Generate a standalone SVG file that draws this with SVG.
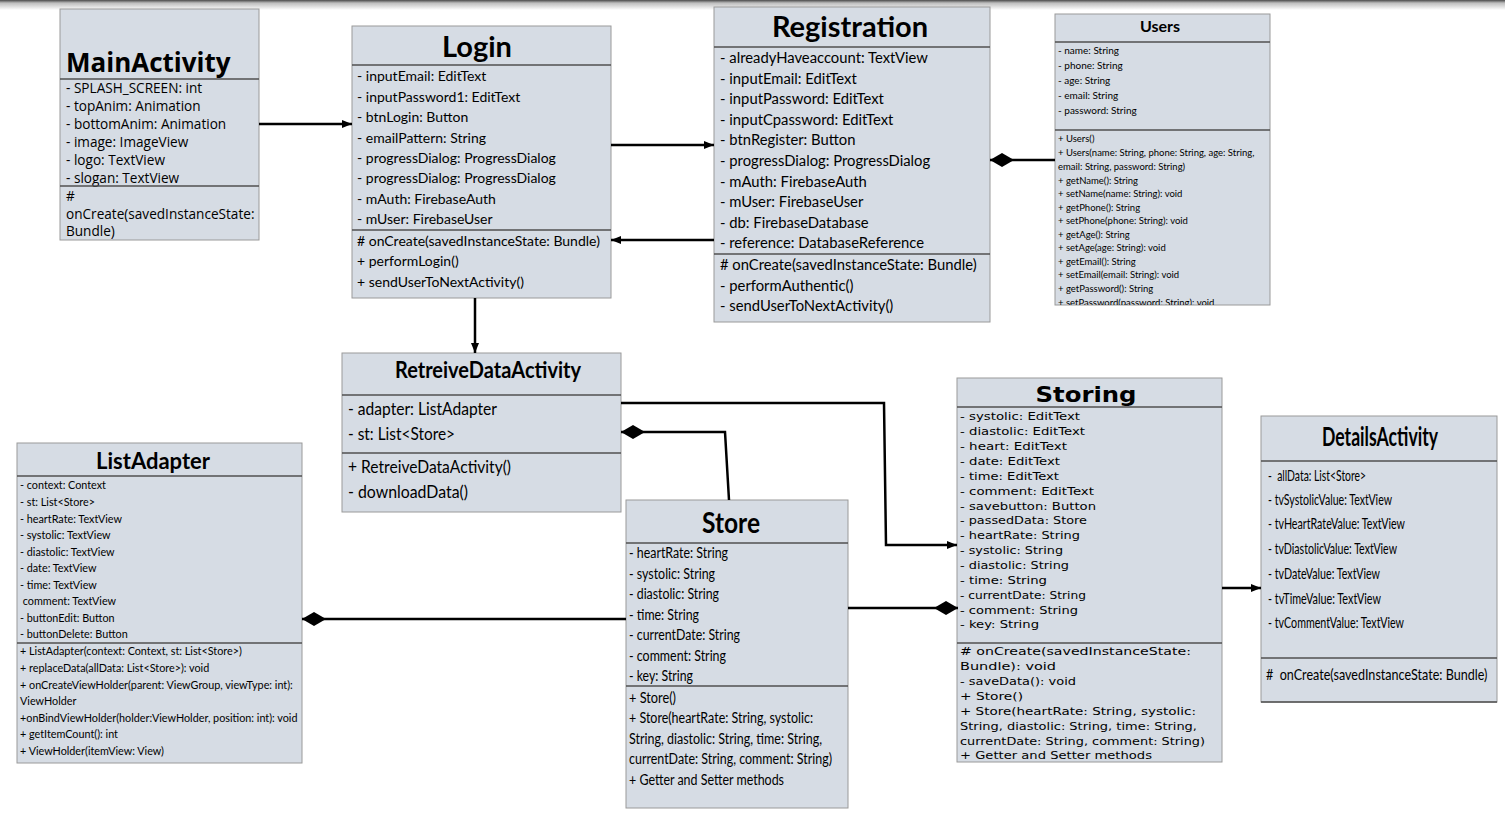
<svg xmlns="http://www.w3.org/2000/svg" width="1505" height="816" viewBox="0 0 1505 816">
<defs>
<linearGradient id="topg" x1="0" y1="0" x2="0" y2="1">
<stop offset="0" stop-color="#4a4a4a"/><stop offset="0.3" stop-color="#bdbdbd"/><stop offset="1" stop-color="#ffffff"/>
</linearGradient>
<marker id="arr" viewBox="0 0 10 10" refX="10" refY="5" markerWidth="10" markerHeight="10" markerUnits="userSpaceOnUse" orient="auto">
<path d="M0,1 L10,5 L0,9 Z" fill="#000"/>
</marker>
<marker id="dia" viewBox="0 0 24 14" refX="0" refY="7" markerWidth="24" markerHeight="14" markerUnits="userSpaceOnUse" orient="auto">
<path d="M0,7 L12,0 L24,7 L12,14 Z" fill="#000"/>
</marker>
<clipPath id="usersClip"><rect x="1055" y="14" width="215" height="291"/></clipPath>
</defs>
<style>
.box{fill:#d6dce4;stroke:#9a9a9a;stroke-width:1}
.div{stroke:#505050;stroke-width:1.3}
.t{fill:#000}
.cal{font-family:Lato,"Liberation Sans",sans-serif}
.os{font-family:"Open Sans","DejaVu Sans",sans-serif}
.dv{font-family:"DejaVu Sans","Open Sans",sans-serif}
.b{font-weight:bold}
.mid{text-anchor:middle}
.con{fill:none;stroke:#000;stroke-width:2.5}
</style>
<rect x="0" y="0" width="1505" height="10" fill="url(#topg)"/>
<rect width="1505" height="816" fill="#fff" y="10"/>

<g id="MainActivity">
<rect class="box" x="60" y="9" width="199" height="231"/>
<text class="t os b" x="66" y="72" font-size="26">MainActivity</text>
<line class="div" x1="60" y1="79" x2="259" y2="79"/>
<g class="t os" font-size="13.6">
<text x="66" y="93">- SPLASH_SCREEN: int</text>
<text x="66" y="111">- topAnim: Animation</text>
<text x="66" y="129">- bottomAnim: Animation</text>
<text x="66" y="147">- image: ImageView</text>
<text x="66" y="165">- logo: TextView</text>
<text x="66" y="183">- slogan: TextView</text>
</g>
<line class="div" x1="60" y1="186" x2="259" y2="186"/>
<g class="t os" font-size="13.6">
<text x="66" y="201">#</text>
<text x="66" y="219">onCreate(savedInstanceState:</text>
<text x="66" y="236">Bundle)</text>
</g>
</g>

<g id="Login">
<rect class="box" x="352" y="26" width="259" height="272"/>
<text class="t cal b mid" x="477" y="57" font-size="29">Login</text>
<line class="div" x1="352" y1="65" x2="611" y2="65"/>
<g class="t cal" font-size="14">
<text x="357" y="81">- inputEmail: EditText</text>
<text x="357" y="102">- inputPassword1: EditText</text>
<text x="357" y="122">- btnLogin: Button</text>
<text x="357" y="143">- emailPattern: String</text>
<text x="357" y="163">- progressDialog: ProgressDialog</text>
<text x="357" y="183">- progressDialog: ProgressDialog</text>
<text x="357" y="204">- mAuth: FirebaseAuth</text>
<text x="357" y="224">- mUser: FirebaseUser</text>
</g>
<line class="div" x1="352" y1="230" x2="611" y2="230"/>
<g class="t cal" font-size="14">
<text x="357" y="246"># onCreate(savedInstanceState: Bundle)</text>
<text x="357" y="266">+ performLogin()</text>
<text x="357" y="287">+ sendUserToNextActivity()</text>
</g>
</g>

<g id="Registration">
<rect class="box" x="714" y="7" width="276" height="315"/>
<text class="t cal b mid" x="850" y="37" font-size="29">Registration</text>
<line class="div" x1="714" y1="47" x2="990" y2="47"/>
<g class="t cal" font-size="14.8">
<text x="720" y="63">- alreadyHaveaccount: TextView</text>
<text x="720" y="84">- inputEmail: EditText</text>
<text x="720" y="104">- inputPassword: EditText</text>
<text x="720" y="125">- inputCpassword: EditText</text>
<text x="720" y="145">- btnRegister: Button</text>
<text x="720" y="166">- progressDialog: ProgressDialog</text>
<text x="720" y="187">- mAuth: FirebaseAuth</text>
<text x="720" y="207">- mUser: FirebaseUser</text>
<text x="720" y="228">- db: FirebaseDatabase</text>
<text x="720" y="248">- reference: DatabaseReference</text>
</g>
<line class="div" x1="714" y1="254" x2="990" y2="254"/>
<g class="t cal" font-size="14.8">
<text x="720" y="270"># onCreate(savedInstanceState: Bundle)</text>
<text x="720" y="291">- performAuthentic()</text>
<text x="720" y="311">- sendUserToNextActivity()</text>
</g>
</g>

<g id="Users">
<rect class="box" x="1055" y="14" width="215" height="291"/>
<text class="t cal b mid" x="1160" y="32" font-size="16">Users</text>
<line class="div" x1="1055" y1="42" x2="1270" y2="42"/>
<g class="t cal" font-size="10">
<text x="1058" y="54">- name: String</text>
<text x="1058" y="69">- phone: String</text>
<text x="1058" y="84">- age: String</text>
<text x="1058" y="99">- email: String</text>
<text x="1058" y="114">- password: String</text>
</g>
<line class="div" x1="1055" y1="130" x2="1270" y2="130"/>
<g class="t cal" font-size="9.5" clip-path="url(#usersClip)">
<text x="1058" y="141.5">+ Users()</text>
<text x="1058" y="155.5">+ Users(name: String, phone: String, age: String,</text>
<text x="1058" y="169.5">email: String, password: String)</text>
<text x="1058" y="183.5">+ getName(): String</text>
<text x="1058" y="196.5">+ setName(name: String): void</text>
<text x="1058" y="210.5">+ getPhone(): String</text>
<text x="1058" y="223.5">+ setPhone(phone: String): void</text>
<text x="1058" y="237.5">+ getAge(): String</text>
<text x="1058" y="250.5">+ setAge(age: String): void</text>
<text x="1058" y="264.5">+ getEmail(): String</text>
<text x="1058" y="277.5">+ setEmail(email: String): void</text>
<text x="1058" y="291.5">+ getPassword(): String</text>
<text x="1058" y="305.5">+ setPassword(password: String): void</text>
</g>
</g>

<g id="RetreiveDataActivity">
<rect class="box" x="342" y="353" width="279" height="159"/>
<text class="t cal b mid" x="488" y="378" font-size="22" textLength="186" lengthAdjust="spacingAndGlyphs">RetreiveDataActivity</text>
<line class="div" x1="342" y1="395" x2="621" y2="395"/>
<g class="t cal" font-size="18">
<text x="348" y="415" textLength="149" lengthAdjust="spacingAndGlyphs">- adapter: ListAdapter</text>
<text x="348" y="440" textLength="107" lengthAdjust="spacingAndGlyphs">- st: List&lt;Store&gt;</text>
</g>
<line class="div" x1="342" y1="453" x2="621" y2="453"/>
<g class="t cal" font-size="18">
<text x="348" y="473" textLength="163" lengthAdjust="spacingAndGlyphs">+ RetreiveDataActivity()</text>
<text x="348" y="498" textLength="120" lengthAdjust="spacingAndGlyphs">- downloadData()</text>
</g>
</g>

<g id="ListAdapter">
<rect class="box" x="17" y="443" width="285" height="320"/>
<text class="t cal b mid" x="153" y="469" font-size="22">ListAdapter</text>
<line class="div" x1="17" y1="476" x2="302" y2="476"/>
<g class="t cal" font-size="10.8">
<text x="20" y="489">- context: Context</text>
<text x="20" y="506">- st: List&lt;Store&gt;</text>
<text x="20" y="523">- heartRate: TextView</text>
<text x="20" y="539">- systolic: TextView</text>
<text x="20" y="556">- diastolic: TextView</text>
<text x="20" y="572">- date: TextView</text>
<text x="20" y="589">- time: TextView</text>
<text x="20" y="605" xml:space="preserve"> comment: TextView</text>
<text x="20" y="622">- buttonEdit: Button</text>
<text x="20" y="638">- buttonDelete: Button</text>
</g>
<line class="div" x1="17" y1="643" x2="302" y2="643"/>
<g class="t cal" font-size="10.8">
<text x="20" y="655">+ ListAdapter(context: Context, st: List&lt;Store&gt;)</text>
<text x="20" y="672">+ replaceData(allData: List&lt;Store&gt;): void</text>
<text x="20" y="689">+ onCreateViewHolder(parent: ViewGroup, viewType: int):</text>
<text x="20" y="705">ViewHolder</text>
<text x="20" y="722">+onBindViewHolder(holder:ViewHolder, position: int): void</text>
<text x="20" y="738">+ getItemCount(): int</text>
<text x="20" y="755">+ ViewHolder(itemView: View)</text>
</g>
</g>

<g id="Store">
<rect class="box" x="626" y="500" width="222" height="308"/>
<text class="t cal b mid" x="731" y="533" font-size="28" textLength="58" lengthAdjust="spacingAndGlyphs">Store</text>
<line class="div" x1="626" y1="543" x2="848" y2="543"/>
<g class="t cal" font-size="14.5">
<text x="629" y="558" textLength="99" lengthAdjust="spacingAndGlyphs">- heartRate: String</text>
<text x="629" y="579" textLength="86" lengthAdjust="spacingAndGlyphs">- systolic: String</text>
<text x="629" y="599" textLength="90" lengthAdjust="spacingAndGlyphs">- diastolic: String</text>
<text x="629" y="620" textLength="70" lengthAdjust="spacingAndGlyphs">- time: String</text>
<text x="629" y="640" textLength="111" lengthAdjust="spacingAndGlyphs">- currentDate: String</text>
<text x="629" y="661" textLength="97" lengthAdjust="spacingAndGlyphs">- comment: String</text>
<text x="629" y="681" textLength="64" lengthAdjust="spacingAndGlyphs">- key: String</text>
</g>
<line class="div" x1="626" y1="686" x2="848" y2="686"/>
<g class="t cal" font-size="14.5">
<text x="629" y="703" textLength="47" lengthAdjust="spacingAndGlyphs">+ Store()</text>
<text x="629" y="723" textLength="184" lengthAdjust="spacingAndGlyphs">+ Store(heartRate: String, systolic:</text>
<text x="629" y="744" textLength="193" lengthAdjust="spacingAndGlyphs">String, diastolic: String, time: String,</text>
<text x="629" y="764" textLength="203" lengthAdjust="spacingAndGlyphs">currentDate: String, comment: String)</text>
<text x="629" y="785" textLength="155" lengthAdjust="spacingAndGlyphs">+ Getter and Setter methods</text>
</g>
</g>

<g id="Storing">
<rect class="box" x="957" y="378" width="265" height="384"/>
<text class="t dv b mid" x="1086" y="402" font-size="21" textLength="101" lengthAdjust="spacingAndGlyphs">Storing</text>
<line class="div" x1="957" y1="407" x2="1222" y2="407"/>
<g class="t dv" font-size="11">
<text x="960" y="420" textLength="120" lengthAdjust="spacingAndGlyphs">- systolic: EditText</text>
<text x="960" y="435" textLength="125" lengthAdjust="spacingAndGlyphs">- diastolic: EditText</text>
<text x="960" y="450" textLength="107" lengthAdjust="spacingAndGlyphs">- heart: EditText</text>
<text x="960" y="465" textLength="100" lengthAdjust="spacingAndGlyphs">- date: EditText</text>
<text x="960" y="480" textLength="99" lengthAdjust="spacingAndGlyphs">- time: EditText</text>
<text x="960" y="495" textLength="134" lengthAdjust="spacingAndGlyphs">- comment: EditText</text>
<text x="960" y="510" textLength="136" lengthAdjust="spacingAndGlyphs">- savebutton: Button</text>
<text x="960" y="524" textLength="127" lengthAdjust="spacingAndGlyphs">- passedData: Store</text>
<text x="960" y="539" textLength="120" lengthAdjust="spacingAndGlyphs">- heartRate: String</text>
<text x="960" y="554" textLength="103" lengthAdjust="spacingAndGlyphs">- systolic: String</text>
<text x="960" y="569" textLength="109" lengthAdjust="spacingAndGlyphs">- diastolic: String</text>
<text x="960" y="584" textLength="87" lengthAdjust="spacingAndGlyphs">- time: String</text>
<text x="960" y="599" textLength="126" lengthAdjust="spacingAndGlyphs">- currentDate: String</text>
<text x="960" y="614" textLength="118" lengthAdjust="spacingAndGlyphs">- comment: String</text>
<text x="960" y="628" textLength="79" lengthAdjust="spacingAndGlyphs">- key: String</text>
</g>
<line class="div" x1="957" y1="643" x2="1222" y2="643"/>
<g class="t dv" font-size="11">
<text x="960" y="655" textLength="231" lengthAdjust="spacingAndGlyphs"># onCreate(savedInstanceState:</text>
<text x="960" y="670" textLength="96" lengthAdjust="spacingAndGlyphs">Bundle): void</text>
<text x="960" y="685" textLength="116" lengthAdjust="spacingAndGlyphs">- saveData(): void</text>
<text x="960" y="700" textLength="63" lengthAdjust="spacingAndGlyphs">+ Store()</text>
<text x="960" y="715" textLength="236" lengthAdjust="spacingAndGlyphs">+ Store(heartRate: String, systolic:</text>
<text x="960" y="730" textLength="237" lengthAdjust="spacingAndGlyphs">String, diastolic: String, time: String,</text>
<text x="960" y="745" textLength="245" lengthAdjust="spacingAndGlyphs">currentDate: String, comment: String)</text>
<text x="960" y="759" textLength="192" lengthAdjust="spacingAndGlyphs">+ Getter and Setter methods</text>
</g>
</g>

<g id="DetailsActivity">
<rect class="box" x="1261" y="416" width="236" height="286"/>
<text class="t cal b mid" x="1380" y="446" font-size="26" textLength="116" lengthAdjust="spacingAndGlyphs">DetailsActivity</text>
<line class="div" x1="1261" y1="461" x2="1497" y2="461"/>
<g class="t cal" font-size="15">
<text x="1268" y="481" textLength="98" lengthAdjust="spacingAndGlyphs" xml:space="preserve">-  allData: List&lt;Store&gt;</text>
<text x="1268" y="505" textLength="124" lengthAdjust="spacingAndGlyphs">- tvSystolicValue: TextView</text>
<text x="1268" y="529" textLength="137" lengthAdjust="spacingAndGlyphs">- tvHeartRateValue: TextView</text>
<text x="1268" y="554" textLength="129" lengthAdjust="spacingAndGlyphs">- tvDiastolicValue: TextView</text>
<text x="1268" y="579" textLength="112" lengthAdjust="spacingAndGlyphs">- tvDateValue: TextView</text>
<text x="1268" y="604" textLength="113" lengthAdjust="spacingAndGlyphs">- tvTimeValue: TextView</text>
<text x="1268" y="628" textLength="136" lengthAdjust="spacingAndGlyphs">- tvCommentValue: TextView</text>
</g>
<line class="div" x1="1261" y1="658" x2="1497" y2="658"/>
<text class="t cal" transform="translate(1266,680) scale(0.82,1)" x="0" y="0" font-size="16" textLength="270" lengthAdjust="spacingAndGlyphs" xml:space="preserve">#  onCreate(savedInstanceState: Bundle)</text>
<line class="div" x1="1261" y1="702" x2="1497" y2="702"/>
</g>

<g id="connectors">
<line class="con" x1="259" y1="124" x2="352" y2="124" marker-end="url(#arr)"/>
<line class="con" x1="611" y1="145" x2="714" y2="145" marker-end="url(#arr)"/>
<line class="con" x1="714" y1="240" x2="611" y2="240" marker-end="url(#arr)"/>
<line class="con" x1="990" y1="160" x2="1055" y2="160" marker-start="url(#dia)"/>
<line class="con" x1="475" y1="298" x2="475" y2="353" marker-end="url(#arr)"/>
<polyline class="con" points="621,403 884,403 886,545 957,545" marker-end="url(#arr)"/>
<polyline class="con" points="621,432 725,432 729,500" marker-start="url(#dia)"/>
<line class="con" x1="302" y1="619" x2="626" y2="619" marker-start="url(#dia)"/>
<line class="con" x1="958" y1="608" x2="848" y2="608" marker-start="url(#dia)"/>
<line class="con" x1="1222" y1="588" x2="1261" y2="588" marker-end="url(#arr)"/>
</g>
</svg>
